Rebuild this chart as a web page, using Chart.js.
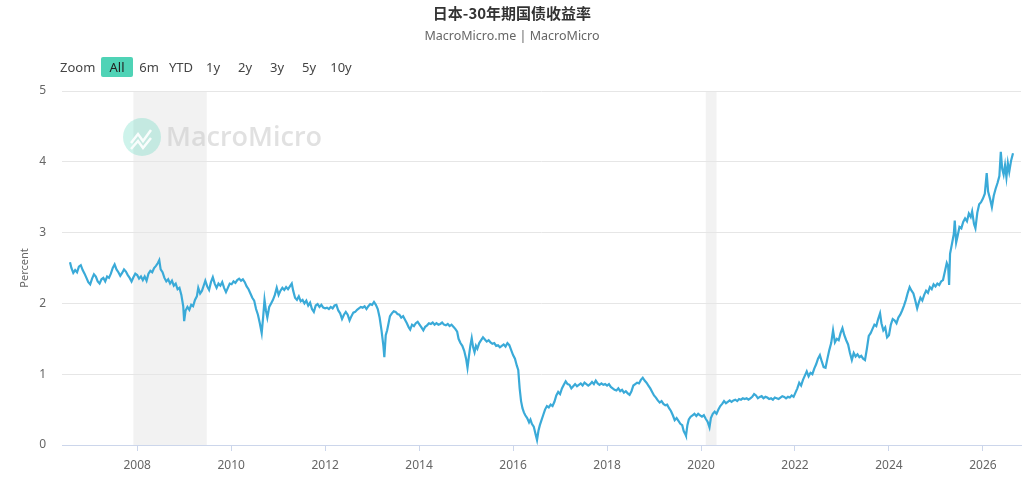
<!DOCTYPE html>
<html>
<head>
<meta charset="utf-8">
<script src="https://cdn.jsdelivr.net/npm/chart.js@4.4.1/dist/chart.umd.min.js"></script>
<style>
html, body { margin: 0; padding: 0; background: #fff; }
#wrap { position: relative; width: 1024px; height: 490px; overflow: hidden; font-family: "Noto Sans", sans-serif; }
#title { position: absolute; top: 2px; left: 0; width: 1024px; text-align: center; font: bold 15px "Noto Sans CJK SC", sans-serif; color: #333; }
#sub { position: absolute; top: 27px; left: 0; width: 1024px; text-align: center; font-size: 12.5px; color: #666; }
.btn { position: absolute; top: 57px; height: 20px; line-height: 20px; font-size: 13px; color: #444; text-align: center; }
.btn.on { background: #4fd3b6; border-radius: 2px; color: #222; }
#chart { position: absolute; left: 0; top: 0; }
</style>
</head>
<body>
<div id="wrap">
  <canvas id="chart" width="1024" height="490"></canvas>
  <div id="title">日本-30年期国债收益率</div>
  <div id="sub">MacroMicro.me | MacroMicro</div>
  <div id="zoomBar"></div>
</div>
<script>
const chartTitle = '日本-30年期国债收益率';
const yAxisTitle = 'Percent';
const rangeButtons = ['All', '6m', 'YTD', '1y', '2y', '3y', '5y', '10y'];
const xTicks = [2008, 2010, 2012, 2014, 2016, 2018, 2020, 2022, 2024, 2026];
const yTicks = [0, 1, 2, 3, 4, 5];
// recession shading (decimal years)
const recessionStart = [2007.92, 2020.10];
const recessionEnd = [2009.48, 2020.33];

// dates in decimal years, yields in percent
const dates = [
  2006.57, 2006.60, 2006.64, 2006.68, 2006.72, 2006.76, 2006.80, 2006.84, 2006.88, 2006.92, 2006.96,
  2007.00, 2007.04, 2007.08, 2007.12, 2007.16, 2007.20, 2007.24, 2007.28, 2007.32, 2007.36, 2007.40, 2007.44, 2007.48, 2007.52, 2007.56, 2007.60, 2007.64, 2007.68, 2007.72, 2007.76, 2007.80, 2007.84, 2007.88, 2007.92, 2007.96,
  2008.00, 2008.04, 2008.08, 2008.12, 2008.16, 2008.20, 2008.24, 2008.28, 2008.32, 2008.36, 2008.40, 2008.44, 2008.47, 2008.50, 2008.54, 2008.58, 2008.62, 2008.66, 2008.70, 2008.74, 2008.78, 2008.82, 2008.86, 2008.90, 2008.94, 2008.98,
  2009.00, 2009.03, 2009.07, 2009.11, 2009.15, 2009.19, 2009.23, 2009.27, 2009.30, 2009.34, 2009.38, 2009.42, 2009.45, 2009.49, 2009.53, 2009.57, 2009.61, 2009.65, 2009.69, 2009.73, 2009.77, 2009.81, 2009.85, 2009.89, 2009.93, 2009.97,
  2010.01, 2010.05, 2010.09, 2010.13, 2010.17, 2010.21, 2010.25, 2010.29, 2010.33, 2010.37, 2010.41, 2010.45, 2010.49, 2010.53, 2010.57, 2010.61, 2010.65, 2010.68, 2010.71, 2010.74, 2010.77, 2010.81, 2010.85, 2010.89, 2010.93, 2010.97,
  2011.01, 2011.05, 2011.09, 2011.13, 2011.17, 2011.21, 2011.25, 2011.29, 2011.32, 2011.36, 2011.40, 2011.44, 2011.48, 2011.52, 2011.56, 2011.60, 2011.64, 2011.68, 2011.72, 2011.76, 2011.80, 2011.84, 2011.88, 2011.92, 2011.96,
  2012.00, 2012.04, 2012.08, 2012.12, 2012.16, 2012.20, 2012.24, 2012.28, 2012.32, 2012.36, 2012.40, 2012.44, 2012.48, 2012.52, 2012.56, 2012.60, 2012.64, 2012.68, 2012.72, 2012.76, 2012.80, 2012.84, 2012.88, 2012.92, 2012.96,
  2013.00, 2013.04, 2013.08, 2013.12, 2013.16, 2013.20, 2013.24, 2013.26, 2013.29, 2013.32, 2013.35, 2013.38, 2013.42, 2013.46, 2013.50, 2013.54, 2013.58, 2013.62, 2013.66, 2013.70, 2013.74, 2013.78, 2013.81, 2013.85, 2013.89, 2013.93, 2013.97,
  2014.01, 2014.05, 2014.09, 2014.13, 2014.17, 2014.21, 2014.25, 2014.29, 2014.33, 2014.37, 2014.41, 2014.45, 2014.49, 2014.53, 2014.57, 2014.61, 2014.65, 2014.69, 2014.73, 2014.77, 2014.81, 2014.84, 2014.88, 2014.92, 2014.96,
  2015.00, 2015.03, 2015.06, 2015.09, 2015.12, 2015.15, 2015.18, 2015.21, 2015.24, 2015.28, 2015.32, 2015.36, 2015.40, 2015.44, 2015.48, 2015.52, 2015.56, 2015.60, 2015.64, 2015.68, 2015.72, 2015.76, 2015.80, 2015.84, 2015.88, 2015.92, 2015.96,
  2016.00, 2016.04, 2016.08, 2016.11, 2016.14, 2016.17, 2016.20, 2016.23, 2016.26, 2016.30, 2016.34, 2016.37, 2016.40, 2016.44, 2016.48, 2016.51, 2016.54, 2016.57, 2016.60, 2016.64, 2016.68, 2016.72, 2016.76, 2016.80, 2016.84, 2016.88, 2016.92, 2016.96,
  2017.00, 2017.04, 2017.08, 2017.12, 2017.16, 2017.20, 2017.24, 2017.28, 2017.32, 2017.36, 2017.40, 2017.44, 2017.48, 2017.52, 2017.56, 2017.60, 2017.64, 2017.68, 2017.72, 2017.76, 2017.80, 2017.84, 2017.88, 2017.92, 2017.96,
  2018.00, 2018.04, 2018.08, 2018.12, 2018.16, 2018.20, 2018.24, 2018.28, 2018.32, 2018.36, 2018.40, 2018.44, 2018.48, 2018.52, 2018.56, 2018.60, 2018.64, 2018.68, 2018.72, 2018.76, 2018.80, 2018.84, 2018.88, 2018.92, 2018.96,
  2019.00, 2019.04, 2019.08, 2019.12, 2019.16, 2019.20, 2019.24, 2019.28, 2019.32, 2019.36, 2019.40, 2019.44, 2019.48, 2019.52, 2019.56, 2019.60, 2019.63, 2019.66, 2019.68, 2019.71, 2019.74, 2019.78, 2019.82, 2019.86, 2019.90, 2019.94, 2019.98,
  2020.02, 2020.06, 2020.10, 2020.14, 2020.18, 2020.21, 2020.25, 2020.29, 2020.33, 2020.37, 2020.41, 2020.45, 2020.49, 2020.53, 2020.57, 2020.61, 2020.65, 2020.69, 2020.73, 2020.77, 2020.81, 2020.85, 2020.89, 2020.93, 2020.97,
  2021.01, 2021.05, 2021.09, 2021.13, 2021.17, 2021.21, 2021.25, 2021.29, 2021.33, 2021.37, 2021.41, 2021.45, 2021.49, 2021.53, 2021.57, 2021.61, 2021.65, 2021.69, 2021.73, 2021.77, 2021.81, 2021.85, 2021.89, 2021.93, 2021.97,
  2022.01, 2022.05, 2022.09, 2022.13, 2022.17, 2022.21, 2022.25, 2022.29, 2022.33, 2022.37, 2022.41, 2022.45, 2022.49, 2022.53, 2022.57, 2022.61, 2022.65, 2022.69, 2022.73, 2022.77, 2022.81, 2022.85, 2022.89, 2022.93, 2022.97,
  2023.01, 2023.05, 2023.09, 2023.13, 2023.17, 2023.21, 2023.25, 2023.29, 2023.33, 2023.37, 2023.41, 2023.45, 2023.49, 2023.53, 2023.57, 2023.61, 2023.65, 2023.69, 2023.73, 2023.77, 2023.81, 2023.84, 2023.88, 2023.92, 2023.96,
  2024.00, 2024.04, 2024.08, 2024.12, 2024.16, 2024.20, 2024.24, 2024.28, 2024.32, 2024.36, 2024.40, 2024.44, 2024.48, 2024.52, 2024.56, 2024.60, 2024.63, 2024.67, 2024.71, 2024.75, 2024.79, 2024.83, 2024.87, 2024.91, 2024.95, 2024.99,
  2025.03, 2025.07, 2025.11, 2025.15, 2025.19, 2025.23, 2025.26, 2025.28, 2025.30, 2025.34, 2025.38, 2025.40, 2025.43, 2025.46, 2025.50, 2025.54, 2025.58, 2025.62, 2025.66, 2025.70, 2025.74, 2025.77, 2025.81, 2025.84, 2025.88, 2025.92, 2025.96,
  2026.00, 2026.04, 2026.08, 2026.11, 2026.15, 2026.19, 2026.23, 2026.27, 2026.31, 2026.35, 2026.38, 2026.41, 2026.44, 2026.47, 2026.50, 2026.53, 2026.56, 2026.60, 2026.64
];
const yields = [
  2.58, 2.50, 2.43, 2.47, 2.44, 2.52, 2.54, 2.47, 2.42, 2.36, 2.30,
  2.27, 2.35, 2.41, 2.38, 2.31, 2.28, 2.34, 2.36, 2.31, 2.38, 2.36, 2.42, 2.50, 2.55, 2.48, 2.44, 2.39, 2.43, 2.48, 2.45, 2.40, 2.36, 2.31, 2.37, 2.42,
  2.40, 2.35, 2.38, 2.33, 2.38, 2.32, 2.42, 2.46, 2.44, 2.50, 2.53, 2.57, 2.61, 2.48, 2.44, 2.36, 2.31, 2.34, 2.28, 2.32, 2.25, 2.28, 2.20, 2.22, 2.12, 1.96,
  1.75, 1.90, 1.95, 1.91, 1.98, 1.96, 2.05, 2.10, 2.22, 2.14, 2.18, 2.26, 2.32, 2.24, 2.19, 2.30, 2.37, 2.28, 2.22, 2.28, 2.25, 2.30, 2.22, 2.16, 2.22, 2.28,
  2.27, 2.31, 2.29, 2.33, 2.35, 2.32, 2.34, 2.30, 2.24, 2.20, 2.14, 2.08, 2.04, 1.92, 1.84, 1.72, 1.58, 1.80, 2.05, 1.90, 1.80, 1.95, 2.00, 2.05, 2.12, 2.22,
  2.12, 2.18, 2.22, 2.19, 2.23, 2.20, 2.24, 2.28, 2.18, 2.08, 2.05, 2.10, 2.03, 2.05, 2.00, 2.04, 1.97, 2.01, 1.92, 1.88, 1.97, 1.99, 1.95, 1.98, 1.94,
  1.93, 1.94, 1.92, 1.95, 1.93, 1.97, 1.98, 1.90, 1.86, 1.78, 1.84, 1.88, 1.84, 1.76, 1.82, 1.87, 1.88, 1.91, 1.93, 1.95, 1.94, 1.96, 1.92, 1.96, 1.99,
  1.98, 2.02, 1.98, 1.92, 1.80, 1.62, 1.40, 1.24, 1.55, 1.62, 1.72, 1.82, 1.86, 1.89, 1.88, 1.85, 1.84, 1.80, 1.82, 1.77, 1.72, 1.66, 1.63, 1.70, 1.68, 1.72, 1.74,
  1.70, 1.66, 1.62, 1.67, 1.69, 1.72, 1.71, 1.73, 1.70, 1.72, 1.70, 1.71, 1.73, 1.70, 1.69, 1.71, 1.68, 1.70, 1.67, 1.64, 1.60, 1.50, 1.44, 1.40, 1.33,
  1.22, 1.09, 1.25, 1.40, 1.51, 1.38, 1.31, 1.40, 1.36, 1.44, 1.48, 1.52, 1.49, 1.46, 1.48, 1.45, 1.43, 1.44, 1.40, 1.41, 1.38, 1.40, 1.42, 1.39, 1.44, 1.41, 1.34,
  1.27, 1.22, 1.12, 1.06, 0.80, 0.62, 0.52, 0.46, 0.42, 0.38, 0.32, 0.36, 0.30, 0.26, 0.15, 0.07, 0.20, 0.28, 0.34, 0.42, 0.50, 0.55, 0.53, 0.57, 0.55, 0.61, 0.70, 0.75,
  0.72, 0.80, 0.85, 0.90, 0.86, 0.85, 0.80, 0.83, 0.86, 0.83, 0.85, 0.87, 0.84, 0.88, 0.86, 0.84, 0.86, 0.89, 0.86, 0.91, 0.87, 0.85, 0.87, 0.85, 0.86,
  0.84, 0.86, 0.82, 0.80, 0.78, 0.77, 0.80, 0.76, 0.78, 0.74, 0.76, 0.73, 0.71, 0.76, 0.84, 0.86, 0.88, 0.87, 0.92, 0.95, 0.91, 0.88, 0.84, 0.80, 0.75,
  0.70, 0.67, 0.63, 0.60, 0.62, 0.58, 0.56, 0.57, 0.52, 0.48, 0.42, 0.35, 0.38, 0.34, 0.30, 0.28, 0.20, 0.16, 0.13, 0.28, 0.36, 0.40, 0.42, 0.44, 0.41, 0.44, 0.42,
  0.40, 0.42, 0.37, 0.33, 0.25, 0.38, 0.44, 0.47, 0.44, 0.50, 0.55, 0.58, 0.62, 0.59, 0.61, 0.63, 0.61, 0.63, 0.64, 0.62, 0.65, 0.64, 0.66, 0.65, 0.66,
  0.64, 0.66, 0.68, 0.72, 0.70, 0.66, 0.68, 0.69, 0.66, 0.68, 0.67, 0.65, 0.66, 0.64, 0.67, 0.66, 0.65, 0.67, 0.69, 0.68, 0.66, 0.68, 0.67, 0.70, 0.68,
  0.74, 0.80, 0.88, 0.84, 0.92, 0.98, 1.04, 0.97, 1.02, 1.00, 1.08, 1.14, 1.22, 1.27, 1.18, 1.10, 1.09, 1.22, 1.34, 1.44, 1.62, 1.45, 1.50, 1.48, 1.58,
  1.65, 1.55, 1.48, 1.42, 1.30, 1.20, 1.30, 1.25, 1.28, 1.24, 1.26, 1.22, 1.20, 1.36, 1.54, 1.58, 1.64, 1.70, 1.68, 1.78, 1.86, 1.72, 1.62, 1.66, 1.52,
  1.55, 1.70, 1.78, 1.76, 1.72, 1.80, 1.84, 1.90, 1.97, 2.05, 2.15, 2.23, 2.18, 2.14, 2.04, 1.93, 2.00, 2.08, 2.04, 2.12, 2.18, 2.15, 2.23, 2.20, 2.27, 2.24,
  2.28, 2.26, 2.31, 2.33, 2.45, 2.57, 2.52, 2.26, 2.70, 2.84, 2.98, 3.17, 2.86, 2.95, 3.08, 3.06, 3.15, 3.20, 3.16, 3.27, 3.22, 3.30, 3.12, 3.06, 3.28, 3.40, 3.43,
  3.48, 3.55, 3.84, 3.58, 3.48, 3.36, 3.52, 3.62, 3.70, 3.80, 4.14, 3.90, 3.82, 3.95, 3.78, 3.98, 3.86, 4.02, 4.12
];

// range selector buttons
const bar = document.getElementById('zoomBar');
const zl = document.createElement('div');
zl.className = 'btn';
zl.style.left = '60px';
zl.textContent = 'Zoom';
bar.appendChild(zl);
rangeButtons.forEach((b, i) => {
  const el = document.createElement('div');
  el.className = 'btn' + (i === 0 ? ' on' : '');
  el.style.left = (101 + i * 32) + 'px';
  el.style.width = '32px';
  el.textContent = b;
  bar.appendChild(el);
});

const bandsPlugin = {
  id: 'bands',
  beforeDraw(chart) {
    const { ctx, chartArea: a, scales: { x } } = chart;
    ctx.save();
    ctx.fillStyle = '#f2f2f2';
    recessionStart.forEach((s, i) => {
      const x0 = x.getPixelForValue(s);
      const x1 = x.getPixelForValue(recessionEnd[i]);
      ctx.fillRect(x0, a.top, x1 - x0, a.bottom - a.top);
    });
    // watermark
    const cx = a.left + 80, cy = a.top + 46;
    ctx.fillStyle = 'rgba(79, 211, 182, 0.28)';
    ctx.beginPath();
    ctx.arc(cx, cy, 19, 0, Math.PI * 2);
    ctx.fill();
    ctx.strokeStyle = 'rgba(255,255,255,0.9)';
    ctx.lineWidth = 2.5;
    ctx.beginPath();
    ctx.moveTo(cx - 11, cy + 6);
    ctx.lineTo(cx - 4, cy - 3);
    ctx.lineTo(cx + 1, cy + 4);
    ctx.lineTo(cx + 9, cy - 7);
    ctx.stroke();
    ctx.beginPath();
    ctx.moveTo(cx - 11, cy + 12);
    ctx.lineTo(cx - 4, cy + 4);
    ctx.lineTo(cx + 1, cy + 11);
    ctx.lineTo(cx + 9, cy + 1);
    ctx.stroke();
    ctx.fillStyle = 'rgba(200,200,200,0.55)';
    ctx.font = '600 27px "Open Sans", sans-serif';
    ctx.textBaseline = 'alphabetic';
    ctx.fillText('MacroMicro', cx + 24, cy + 9);
    ctx.restore();
  }
};

new Chart(document.getElementById('chart'), {
  type: 'line',
  data: {
    labels: dates,
    datasets: [{
      label: chartTitle,
      data: dates.map((d, i) => ({ x: d, y: yields[i] })),
      borderColor: '#3aaad8',
      borderWidth: 2.2,
      pointRadius: 0,
      tension: 0,
      fill: false
    }]
  },
  options: {
    responsive: false,
    animation: false,
    events: [],
    layout: { padding: { left: 14, right: 3, top: 91, bottom: 0 } },
    plugins: { legend: { display: false }, tooltip: { enabled: false } },
    scales: {
      x: {
        type: 'linear',
        min: 2006.40,
        max: 2026.81,
        afterBuildTicks: s => { s.ticks = xTicks.map(v => ({ value: v })); },
        afterFit: s => { s.height = 45; },
        ticks: {
          callback: v => String(v),
          color: '#666',
          font: { family: 'Noto Sans', size: 12 },
          padding: 7,
          maxRotation: 0,
          autoSkip: false
        },
        grid: { drawOnChartArea: false, drawTicks: true, tickLength: 6, color: '#ccd6eb' },
        border: { color: '#ccd6eb' }
      },
      y: {
        min: 0,
        max: 5,
        afterBuildTicks: s => { s.ticks = yTicks.map(v => ({ value: v })); },
        afterFit: s => { s.width = 48; },
        ticks: {
          color: '#666',
          font: { family: 'Noto Sans', size: 12 },
          padding: 16
        },
        grid: { color: '#e6e6e6', drawTicks: false },
        border: { display: false },
        title: {
          display: true,
          text: yAxisTitle,
          color: '#666',
          font: { family: 'Noto Sans', size: 11 },
          padding: { top: 4, bottom: 0 }
        }
      }
    }
  },
  plugins: [bandsPlugin]
});
</script>
</body>
</html>
